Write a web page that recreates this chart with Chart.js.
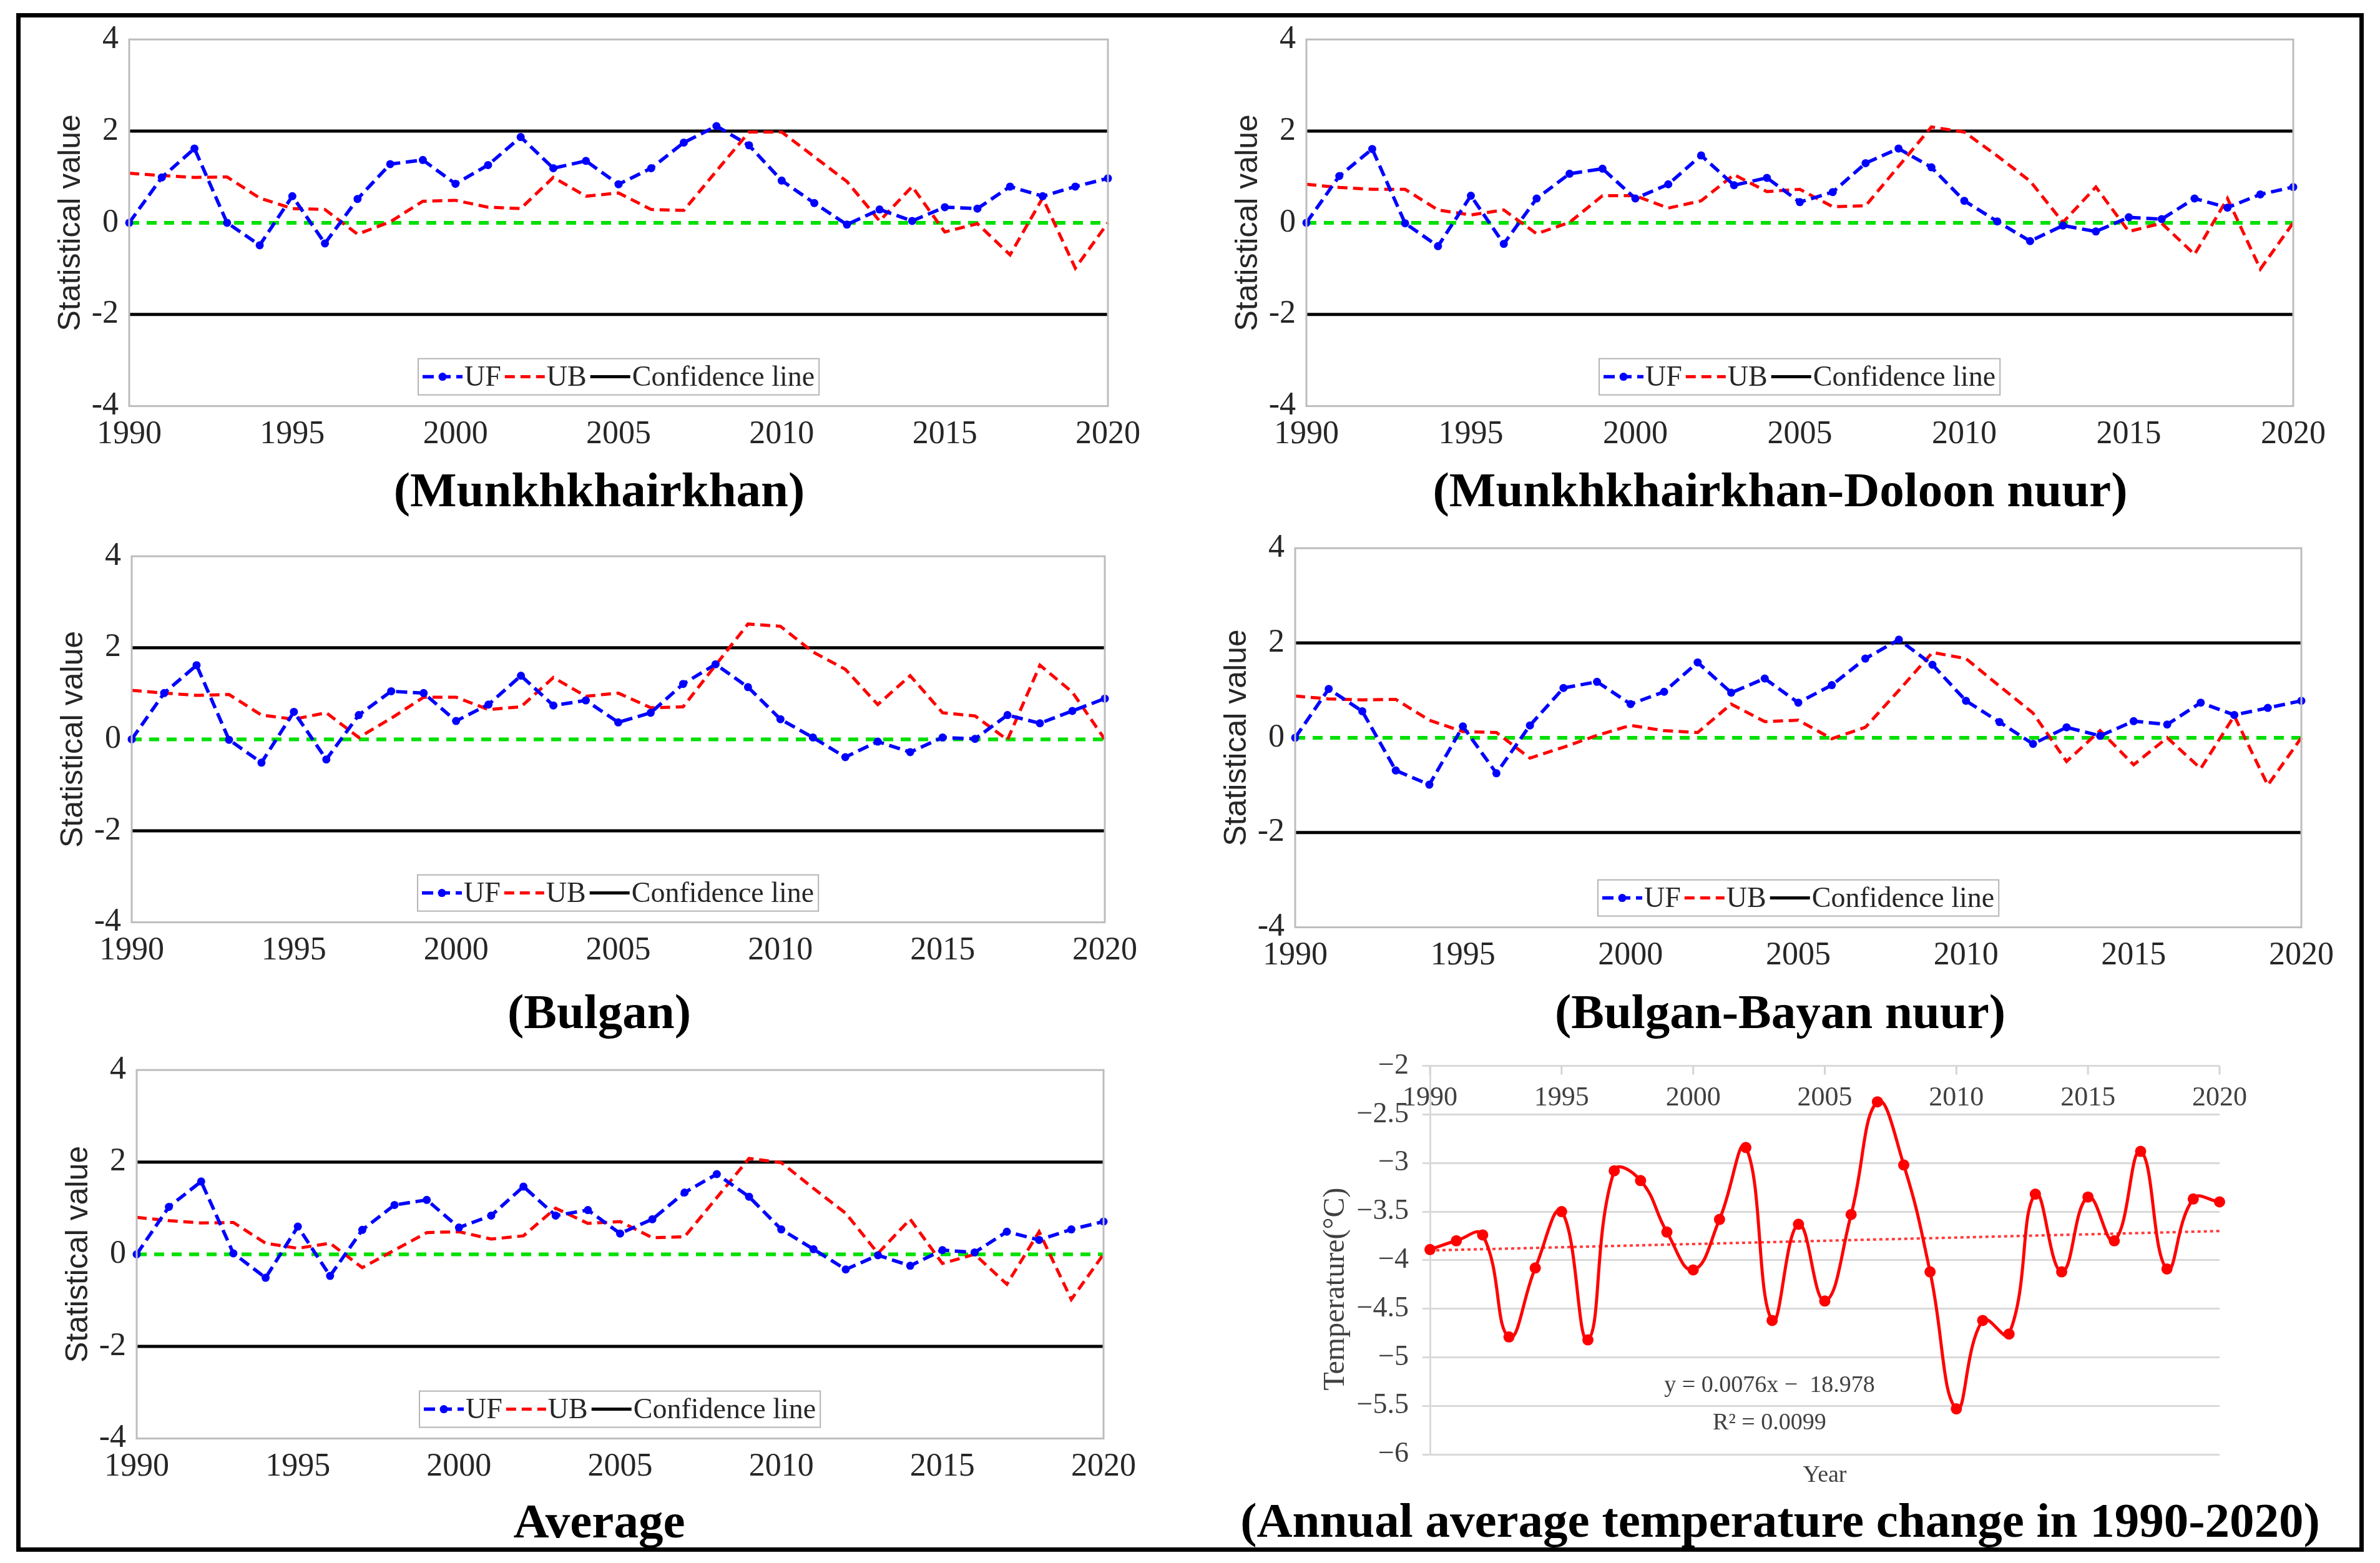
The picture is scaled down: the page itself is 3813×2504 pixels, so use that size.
<!DOCTYPE html>
<html>
<head>
<meta charset="utf-8">
<title>Mann-Kendall test and annual average temperature</title>
<script src="https://cdn.jsdelivr.net/npm/chart.js"></script>
<style>
    html, body { margin: 0; padding: 0; background: #fff; }
    body { width: 3813px; height: 2504px; position: relative; overflow: hidden; }
    canvas { position: absolute; }
    #frame {
        position: absolute; left: 26px; top: 21px;
        width: 3747px; height: 2451px;
        border: 7px solid #000; pointer-events: none;
    }
    .warm { position: absolute; left: 0; top: 0; color: #fff; font-size: 20px; z-index: -1; }
</style>
</head>
<body>
<!-- touch the faces once so the canvas has them -->
<div class="warm" style="font-family: 'Liberation Serif'">1990 UF</div>
<div class="warm" style="font-family: 'Liberation Serif'; font-weight: bold">Average</div>
<div class="warm" style="font-family: 'Liberation Sans'">Statistical value</div>
<canvas id="mk1"></canvas>
<canvas id="mk2"></canvas>
<canvas id="mk3"></canvas>
<canvas id="mk4"></canvas>
<canvas id="mk5"></canvas>
<canvas id="temp"></canvas>
<div id="frame"></div>

<script>
// ---- data ----
const years = [1990, 1991, 1992, 1993, 1994, 1995, 1996, 1997, 1998, 1999,
               2000, 2001, 2002, 2003, 2004, 2005, 2006, 2007, 2008, 2009,
               2010, 2011, 2012, 2013, 2014, 2015, 2016, 2017, 2018, 2019, 2020];

const ufMunkhkhairkhan = [0, 0.99, 1.62, 0.0, -0.49, 0.58, -0.45, 0.52, 1.28, 1.37,
                          0.85, 1.26, 1.87, 1.19, 1.35, 0.84, 1.19, 1.75, 2.11, 1.69,
                          0.92, 0.43, -0.04, 0.29, 0.04, 0.34, 0.31, 0.79, 0.58, 0.79, 0.97];
const ubMunkhkhairkhan = [1.08, 1.03, 0.99, 1.0, 0.54, 0.31, 0.29, -0.25, 0.02, 0.47,
                          0.49, 0.34, 0.31, 0.99, 0.58, 0.65, 0.29, 0.27, 1.13, 1.98,
                          1.98, 1.44, 0.9, 0.04, 0.79, -0.2, -0.02, -0.7, 0.54, -0.99, 0];

const ufDoloonNuur = [0, 1.02, 1.61, -0.01, -0.51, 0.59, -0.46, 0.53, 1.07, 1.18,
                      0.53, 0.84, 1.47, 0.82, 0.98, 0.45, 0.67, 1.30, 1.62, 1.21,
                      0.48, 0.03, -0.40, -0.06, -0.19, 0.12, 0.08, 0.53, 0.33, 0.62, 0.78];
const ubDoloonNuur = [0.84, 0.77, 0.73, 0.73, 0.28, 0.17, 0.28, -0.24, 0.01, 0.59,
                      0.59, 0.32, 0.48, 1.05, 0.68, 0.73, 0.35, 0.37, 1.23, 2.09,
                      1.98, 1.46, 0.91, 0.01, 0.78, -0.19, -0.01, -0.69, 0.53, -1.01, 0];

const ufBulgan = [0, 1.01, 1.62, -0.01, -0.51, 0.60, -0.44, 0.53, 1.05, 1.01,
                  0.40, 0.76, 1.39, 0.74, 0.85, 0.37, 0.58, 1.21, 1.64, 1.14,
                  0.44, 0.04, -0.39, -0.05, -0.28, 0.04, 0.01, 0.53, 0.35, 0.62, 0.89];
const ubBulgan = [1.07, 1.01, 0.96, 0.98, 0.53, 0.44, 0.58, 0.04, 0.46, 0.92,
                  0.92, 0.65, 0.71, 1.35, 0.94, 1.01, 0.69, 0.71, 1.62, 2.52,
                  2.47, 1.91, 1.53, 0.76, 1.39, 0.58, 0.51, -0.01, 1.62, 1.03, 0];

const ufBayanNuur = [0, 1.03, 0.56, -0.69, -0.99, 0.24, -0.75, 0.26, 1.05, 1.18,
                     0.71, 0.97, 1.59, 0.95, 1.25, 0.74, 1.11, 1.67, 2.07, 1.54,
                     0.78, 0.33, -0.13, 0.22, 0.04, 0.35, 0.28, 0.74, 0.48, 0.63, 0.78];
const ubBayanNuur = [0.88, 0.82, 0.80, 0.81, 0.37, 0.13, 0.11, -0.43, -0.2, 0.05,
                     0.26, 0.15, 0.11, 0.71, 0.34, 0.37, -0.02, 0.22, 1.0, 1.80,
                     1.67, 1.09, 0.52, -0.50, 0.15, -0.57, 0, -0.65, 0.46, -1.0, 0];

const ufAverage = [0, 1.03, 1.58, 0.02, -0.51, 0.60, -0.47, 0.53, 1.07, 1.18,
                   0.58, 0.84, 1.47, 0.84, 0.96, 0.45, 0.76, 1.34, 1.74, 1.25,
                   0.54, 0.11, -0.33, -0.02, -0.25, 0.09, 0.04, 0.49, 0.31, 0.54, 0.71];
const ubAverage = [0.80, 0.73, 0.68, 0.69, 0.24, 0.13, 0.24, -0.29, 0.09, 0.47,
                   0.49, 0.33, 0.40, 1.0, 0.67, 0.71, 0.36, 0.38, 1.23, 2.08,
                   1.99, 1.43, 0.89, 0.02, 0.76, -0.2, 0, -0.65, 0.49, -0.98, 0];

const confidenceBounds = [2, -2];
const zeroLine = 0;
const mkYTicks = [-4, -2, 0, 2, 4];
const mkXTicks = [1990, 1995, 2000, 2005, 2010, 2015, 2020];

const annualTemperature = [-3.89, -3.80, -3.74, -4.79, -4.08, -3.50, -4.82, -3.08, -3.18, -3.71,
                           -4.10, -3.58, -2.84, -4.62, -3.63, -4.42, -3.53, -2.37, -3.02, -4.12,
                           -5.53, -4.62, -4.76, -3.32, -4.12, -3.35, -3.80, -2.88, -4.09, -3.37, -3.40];
const trendYears = [1990, 2020];
const trendValues = [-3.90, -3.70];
const tempYearTicks = [1990, 1995, 2000, 2005, 2010, 2015, 2020];
const trendEquation = 'y = 0.0076x \u2212  18.978';
const trendR2 = 'R\u00b2 = 0.0099';

// ---- styles ----
const SERIF = '"Liberation Serif", "Times New Roman", serif';
const SANS = '"Liberation Sans", Arial, sans-serif';
const BLUE = '#0000ff';
const RED = '#ff0000';
const GREEN = '#00e000';
const TICK = '#262626';
const TITLE_SIZE = 79;

// page columns (left, width) and plot boxes [left, top, right, bottom]
const COLS = [{ left: 30, width: 1860 }, { left: 1905, width: 1894 }];

const mkPanels = [
    { id: 'mk1', title: '(Munkhkhairkhan)', uf: ufMunkhkhairkhan, ub: ubMunkhkhairkhan, col: 0, plot: [207, 55, 1775, 651], titleY: 791 },
    { id: 'mk2', title: '(Munkhkhairkhan-Doloon nuur)', uf: ufDoloonNuur, ub: ubDoloonNuur, col: 1, plot: [2093, 55, 3674, 651], titleY: 791 },
    { id: 'mk3', title: '(Bulgan)', uf: ufBulgan, ub: ubBulgan, col: 0, plot: [211, 883, 1770, 1478], titleY: 1627 },
    { id: 'mk4', title: '(Bulgan-Bayan nuur)', uf: ufBayanNuur, ub: ubBayanNuur, col: 1, plot: [2075, 870, 3687, 1486], titleY: 1627 },
    { id: 'mk5', title: 'Average', uf: ufAverage, ub: ubAverage, col: 0, plot: [219, 1706, 1768, 2305], titleY: 2443 }
];

const toPoints = (xs, ys) => xs.map((x, i) => ({ x, y: ys[i] }));
const flatLine = (v) => [{ x: years[0], y: v }, { x: years[years.length - 1], y: v }];

// empty axis on the right so the bottom title centres on the whole column
const spacerAxis = (w) => ({
    position: 'right',
    grid: { display: false, drawTicks: false },
    border: { display: false },
    ticks: { display: false },
    afterFit: (s) => { s.width = w; }
});

// box round the axes and the MATLAB style legend inside the plot
const mkDecor = {
    id: 'mkDecor',
    afterDatasetsDraw(chart) {
        const { ctx, chartArea: a } = chart;
        ctx.save();
        ctx.strokeStyle = '#bdbdbd';
        ctx.lineWidth = 3;
        ctx.strokeRect(a.left, a.top, a.right - a.left, a.bottom - a.top);
        ctx.restore();
    },
    afterDraw(chart, args, opts) {
        const { ctx, chartArea: a } = chart;
        const items = chart.data.datasets.filter(d => d.label);
        ctx.save();
        ctx.font = `${opts.fontSize}px ${SERIF}`;
        const pad = 7, sample = 64, gap = 3, space = 6, h = 58;
        let w = pad * 2 + space * (items.length - 1);
        items.forEach(d => { w += sample + gap + ctx.measureText(d.label).width; });
        const x0 = Math.round((a.left + a.right) / 2 - w / 2);
        const y0 = a.bottom - opts.bottomGap - h;
        ctx.fillStyle = '#fff';
        ctx.fillRect(x0, y0, w, h);
        ctx.strokeStyle = '#b4b4b4';
        ctx.lineWidth = 2;
        ctx.strokeRect(x0, y0, w, h);

        const cy = y0 + h / 2;
        let x = x0 + pad;
        items.forEach(d => {
            ctx.strokeStyle = d.borderColor;
            ctx.lineWidth = d.borderWidth;
            ctx.setLineDash(d.borderDash || []);
            ctx.beginPath();
            ctx.moveTo(x, cy);
            ctx.lineTo(x + sample, cy);
            ctx.stroke();
            ctx.setLineDash([]);
            if (d.pointRadius > 0) {
                ctx.fillStyle = d.pointBackgroundColor;
                ctx.beginPath();
                ctx.arc(x + sample / 2, cy, d.pointRadius, 0, Math.PI * 2);
                ctx.fill();
            }
            ctx.fillStyle = TICK;
            ctx.textAlign = 'left';
            ctx.textBaseline = 'middle';
            ctx.fillText(d.label, x + sample + gap, cy + 2);
            x += sample + gap + ctx.measureText(d.label).width + space;
        });
        ctx.restore();
    }
};

function mkDatasets(uf, ub) {
    return [
        {
            label: 'UF', data: toPoints(years, uf),
            borderColor: BLUE, backgroundColor: BLUE, borderWidth: 5.5, borderDash: [18, 9],
            pointRadius: 6.5, pointBackgroundColor: BLUE, pointBorderWidth: 0, clip: false
        },
        {
            label: 'UB', data: toPoints(years, ub),
            borderColor: RED, backgroundColor: RED, borderWidth: 5, borderDash: [16, 9],
            pointRadius: 0, clip: false
        },
        { label: 'Confidence line', data: flatLine(confidenceBounds[0]), borderColor: '#000', borderWidth: 5, pointRadius: 0 },
        { data: flatLine(confidenceBounds[1]), borderColor: '#000', borderWidth: 5, pointRadius: 0 },
        { data: flatLine(zeroLine), borderColor: GREEN, borderWidth: 6, borderDash: [16, 12], pointRadius: 0 }
    ];
}

function renderMkPanel(p) {
    const col = COLS[p.col];
    const [L, T, R, B] = p.plot;
    const padTop = 40, padBottom = 10;
    const titleLH = TITLE_SIZE * 1.2;
    const xH = p.titleY - B - titleLH / 2;
    const yW = L - col.left;
    const rightW = col.left + col.width - R;
    const ySize = 50;

    const canvas = document.getElementById(p.id);
    canvas.width = col.width;
    canvas.height = Math.round(padTop + (B - T) + xH + titleLH + padBottom);
    canvas.style.left = col.left + 'px';
    canvas.style.top = (T - padTop) + 'px';

    return new Chart(canvas.getContext('2d'), {
        type: 'line',
        data: { datasets: mkDatasets(p.uf, p.ub) },
        plugins: [mkDecor],
        options: {
            responsive: false,
            animation: false,
            devicePixelRatio: 1,
            events: [],
            layout: { padding: { top: padTop, bottom: padBottom, left: 0, right: 0 } },
            plugins: {
                legend: { display: false },
                tooltip: { enabled: false },
                title: {
                    display: true, text: p.title, position: 'bottom', color: '#000', padding: 0,
                    font: { family: SERIF, size: TITLE_SIZE, weight: 'bold' }
                },
                mkDecor: { fontSize: 46, bottomGap: 18 }
            },
            scales: {
                x: {
                    type: 'linear', min: mkXTicks[0], max: mkXTicks[mkXTicks.length - 1],
                    grid: { display: false, drawTicks: false },
                    border: { display: false },
                    afterBuildTicks: (s) => { s.ticks = mkXTicks.map(v => ({ value: v })); },
                    ticks: {
                        padding: 15, color: TICK, maxRotation: 0, autoSkip: false,
                        font: { family: SERIF, size: 52 },
                        callback: (v) => String(v)
                    },
                    afterFit: (s) => { s.height = xH; }
                },
                y: {
                    min: mkYTicks[0], max: mkYTicks[mkYTicks.length - 1],
                    grid: { display: false, drawTicks: false },
                    border: { display: false },
                    afterBuildTicks: (s) => { s.ticks = mkYTicks.map(v => ({ value: v })); },
                    ticks: {
                        padding: 17, color: TICK,
                        font: { family: SERIF, size: 52 },
                        callback: (v) => String(v)
                    },
                    title: {
                        display: true, text: 'Statistical value', color: TICK,
                        font: { family: SANS, size: ySize },
                        padding: { top: yW - 93 - ySize * 0.6, bottom: 0 }
                    },
                    afterFit: (s) => { s.width = yW; }
                },
                yRight: spacerAxis(rightW)
            }
        }
    });
}

// year labels under the top edge, the y title and the trend equation
const tempDecor = {
    id: 'tempDecor',
    beforeDatasetsDraw(chart, args, opts) {
        const { ctx, chartArea: a, scales: { x } } = chart;
        ctx.save();
        ctx.strokeStyle = '#d4d4d4';
        ctx.lineWidth = 3;
        ctx.font = `${opts.fontSize}px ${SERIF}`;
        ctx.fillStyle = '#404040';
        ctx.textAlign = 'center';
        ctx.textBaseline = 'middle';
        opts.years.forEach(v => {
            const px = x.getPixelForValue(v);
            ctx.beginPath();
            ctx.moveTo(px, a.top);
            ctx.lineTo(px, a.top + 14);
            ctx.stroke();
            ctx.fillText(String(v), px, a.top + 52);
        });
        ctx.restore();
    },
    afterDraw(chart, args, opts) {
        const { ctx, chartArea: a, scales: { x, y } } = chart;
        ctx.save();
        ctx.fillStyle = '#404040';
        ctx.textAlign = 'center';
        ctx.textBaseline = 'middle';
        ctx.font = `${opts.noteSize}px ${SERIF}`;
        opts.notes.forEach(n => ctx.fillText(n.text, x.getPixelForValue(n.x), y.getPixelForValue(n.y)));

        // y title sits a little below the middle in the original
        ctx.font = `${opts.yTitle.size}px ${SERIF}`;
        ctx.translate(opts.yTitle.x, (a.top + a.bottom) / 2 + opts.yTitle.dy);
        ctx.rotate(-Math.PI / 2);
        ctx.fillText(opts.yTitle.text, 0, 0);
        ctx.restore();
    }
};

function renderTemperature() {
    const col = COLS[1];
    const [L, T, R, B] = [2291, 1698, 3556, 2330];
    const padTop = 40, padBottom = 10;
    const titleLH = TITLE_SIZE * 1.2;
    const xH = 64;
    const yW = L - col.left;
    const rightW = col.left + col.width - R;

    const canvas = document.getElementById('temp');
    canvas.width = col.width;
    canvas.height = Math.round(padTop + (B - T) + xH + titleLH + padBottom);
    canvas.style.left = col.left + 'px';
    canvas.style.top = (T - padTop) + 'px';

    return new Chart(canvas.getContext('2d'), {
        type: 'line',
        data: {
            datasets: [
                {
                    data: toPoints(years, annualTemperature),
                    borderColor: RED, backgroundColor: RED, borderWidth: 5,
                    pointRadius: 9, pointBackgroundColor: RED, pointBorderWidth: 0,
                    tension: 0.45, clip: false
                },
                {
                    data: toPoints(trendYears, trendValues),
                    borderColor: '#ff3b3b', borderWidth: 4, borderDash: [5, 5], pointRadius: 0
                }
            ]
        },
        plugins: [tempDecor],
        options: {
            responsive: false,
            animation: false,
            devicePixelRatio: 1,
            events: [],
            layout: { padding: { top: padTop, bottom: padBottom, left: 0, right: 0 } },
            plugins: {
                legend: { display: false },
                tooltip: { enabled: false },
                title: {
                    display: true, text: '(Annual average temperature change in 1990-2020)',
                    position: 'bottom', color: '#000', padding: 0,
                    font: { family: SERIF, size: TITLE_SIZE, weight: 'bold' }
                },
                tempDecor: {
                    fontSize: 44,
                    years: tempYearTicks,
                    noteSize: 38,
                    notes: [
                        { text: trendEquation, x: 2002.9, y: -5.29 },
                        { text: trendR2, x: 2002.9, y: -5.68 }
                    ],
                    yTitle: { text: 'Temperature(\u00b0C)', size: 48, x: 235, dy: 46 }
                }
            },
            scales: {
                x: {
                    type: 'linear', min: 1990, max: 2020,
                    grid: { display: false, drawTicks: false },
                    border: { display: false },
                    ticks: { display: false },
                    title: {
                        display: true, text: 'Year', color: '#404040',
                        font: { family: SERIF, size: 38 },
                        padding: { top: 0, bottom: 7 }
                    },
                    afterFit: (s) => { s.height = xH; }
                },
                y: {
                    min: -6, max: -2,
                    grid: { color: '#d9d9d9', lineWidth: 3, drawTicks: true, tickLength: 12, tickColor: '#d9d9d9' },
                    border: { display: true, color: '#d9d9d9', width: 3 },
                    ticks: {
                        stepSize: 0.5, padding: 22, color: '#404040',
                        font: { family: SERIF, size: 46 },
                        callback: (v) => String(v).replace('-', '\u2212')
                    },
                    afterFit: (s) => { s.width = yW; }
                },
                yRight: spacerAxis(rightW)
            }
        }
    });
}

const charts = mkPanels.map(renderMkPanel);
charts.push(renderTemperature());

// redraw once the local faces are surely in use by the canvas
Promise.all([
    document.fonts.load(`52px ${SERIF}`),
    document.fonts.load(`bold 76px ${SERIF}`),
    document.fonts.load(`50px ${SANS}`)
]).then(() => charts.forEach(c => c.update('none')));
</script>
</body>
</html>
